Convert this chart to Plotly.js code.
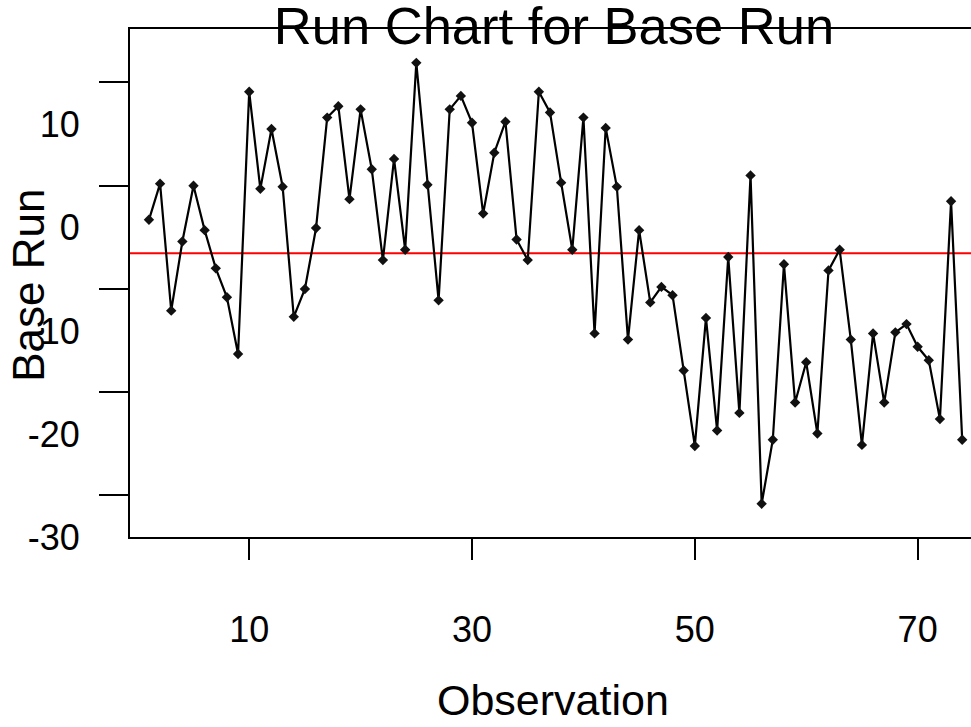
<!DOCTYPE html>
<html>
<head>
<meta charset="utf-8">
<script src="https://cdn.plot.ly/plotly-3.0.1.min.js"></script>
<style>
  html, body { margin: 0; padding: 0; background: #ffffff; overflow: hidden; }
  #chart { width: 971px; height: 727px; }
</style>
</head>
<body>
<div id="chart"></div>
<script>
// ---- Data ----
const observation = [1,2,3,4,5,6,7,8,9,10,11,12,13,14,15,16,17,18,19,20,
  21,22,23,24,25,26,27,28,29,30,31,32,33,34,35,36,37,38,39,40,
  41,42,43,44,45,46,47,48,49,50,51,52,53,54,55,56,57,58,59,60,
  61,62,63,64,65,66,67,68,69,70,71,72,73,74];
const baseRun = [-3.3, 0.2, -12.1, -5.4, 0.0, -4.3, -8.0, -10.8, -16.3, 9.1,
  -0.3, 5.5, -0.1, -12.7, -10.0, -4.1, 6.6, 7.7, -1.3, 7.4,
  1.6, -7.2, 2.6, -6.2, 11.9, 0.1, -11.1, 7.4, 8.7, 6.1,
  -2.7, 3.2, 6.2, -5.2, -7.2, 9.1, 7.1, 0.3, -6.2, 6.6,
  -14.3, 5.6, -0.1, -14.9, -4.3, -11.3, -9.8, -10.6, -17.9, -25.2,
  -12.8, -23.7, -6.9, -22.0, 1.0, -30.8, -24.6, -7.6, -21.0, -17.1,
  -24.0, -8.2, -6.2, -14.9, -25.1, -14.3, -21.0, -14.2, -13.4, -15.6,
  -16.9, -22.6, -1.5, -24.6];
const xTickVals = [10, 30, 50, 70];
const xTickText = ['10', '30', '50', '70'];
const yTickVals = [10, 0, -10, -20, -30];
const yTickText = ['10', '0', '-10', '-20', '-30'];
const titleText = 'Run Chart for Base Run';
const xTitleText = 'Observation';
const yTitleText = 'Base Run';

// center line = median of the series
function median(arr) {
  const s = arr.slice().sort((a, b) => a - b);
  const m = Math.floor(s.length / 2);
  return s.length % 2 ? s[m] : (s[m - 1] + s[m]) / 2;
}
const centerLine = median(baseRun);

const FONT = 'Liberation Sans, Arial, Helvetica, sans-serif';

const trace = {
  type: 'scatter',
  mode: 'lines+markers',
  x: observation,
  y: baseRun,
  line: { color: '#000000', width: 2.2 },
  marker: { symbol: 'diamond', size: 8, color: '#111111' },
  hoverinfo: 'x+y',
  showlegend: false
};

const layout = {
  width: 971,
  height: 727,
  margin: { l: 130, r: 0, t: 29, b: 190, pad: 0 },
  paper_bgcolor: '#ffffff',
  plot_bgcolor: '#ffffff',
  font: { family: FONT, color: '#000000' },
  title: {
    text: titleText,
    font: { family: FONT, size: 52.5, color: '#000000' },
    xref: 'container', x: 554 / 971, xanchor: 'center',
    yref: 'container', y: 1 - 26 / 727, yanchor: 'middle'
  },
  xaxis: {
    range: [-0.70, 74.79],
    tickmode: 'array', tickvals: xTickVals, ticktext: xTickText,
    ticks: 'outside', ticklen: 21, tickwidth: 2, tickcolor: '#000000',
    showline: true, linewidth: 2, linecolor: '#000000', mirror: true,
    showgrid: false, zeroline: false,
    tickfont: { family: FONT, size: 36, color: '#000000' },
    ticklabelstandoff: 39
  },
  yaxis: {
    range: [-34.02, 15.18],
    tickmode: 'array', tickvals: yTickVals, ticktext: yTickText,
    ticks: 'outside', ticklen: 29, tickwidth: 2, tickcolor: '#000000',
    showline: true, linewidth: 2, linecolor: '#000000', mirror: false,
    showgrid: false, zeroline: false,
    tickfont: { family: FONT, size: 36, color: '#000000' },
    ticklabelstandoff: 12,
    ticklabelshift: 42
  },
  shapes: [{
    type: 'line', xref: 'paper', x0: 0, x1: 1,
    yref: 'y', y0: centerLine, y1: centerLine,
    line: { color: '#ff0000', width: 2 },
    layer: 'below'
  }],
  annotations: [
    {
      text: xTitleText, xref: 'paper', yref: 'paper',
      x: 0.503, y: -0.321, xanchor: 'center', yanchor: 'middle',
      showarrow: false, font: { family: FONT, size: 43, color: '#000000' }
    },
    {
      text: yTitleText, xref: 'paper', yref: 'paper',
      x: -0.1215, y: 0.496, xanchor: 'center', yanchor: 'middle', textangle: -90,
      showarrow: false, font: { family: FONT, size: 44, color: '#000000' }
    }
  ]
};

Plotly.newPlot('chart', [trace], layout, { displayModeBar: false, staticPlot: true });
</script>
</body>
</html>
